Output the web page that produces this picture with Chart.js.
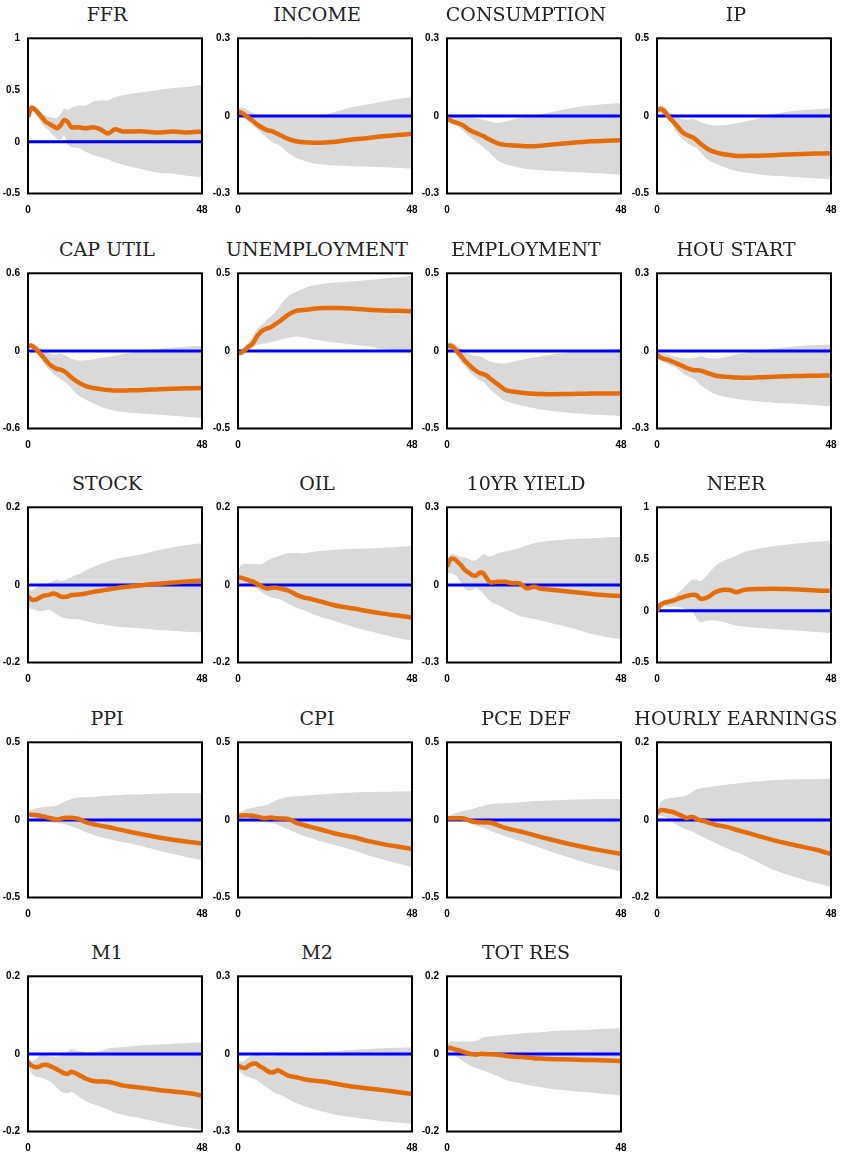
<!DOCTYPE html>
<html>
<head>
<meta charset="utf-8">
<script src="https://cdn.jsdelivr.net/npm/chart.js@4"></script>
<style>
  html, body { margin: 0; padding: 0; background: #fff; overflow: hidden; }
  #grid { position: relative; width: 843px; height: 1156px; }
  #grid canvas { position: absolute; }
  .ttl {
    position: absolute; width: 214px; text-align: center; white-space: nowrap;
    font-family: 'DejaVu Serif', serif; font-size: 19px; line-height: 23px; color: #222;
  }
</style>
</head>
<body>
<div id="grid"></div>
<script>
var horizons = [0,1,2,3,4,5,6,7,8,9,10,11,12,14,16,18,20,22,24,26,28,32,36,40,44,48];
var xTicks = [0, 48];

var titles = ['FFR', 'INCOME', 'CONSUMPTION', 'IP',
              'CAP UTIL', 'UNEMPLOYMENT', 'EMPLOYMENT', 'HOU START',
              'STOCK', 'OIL', '10YR YIELD', 'NEER',
              'PPI', 'CPI', 'PCE DEF', 'HOURLY EARNINGS',
              'M1', 'M2', 'TOT RES'];

var yTicks = [
  [-0.5, 0, 0.5, 1], [-0.3, 0, 0.3], [-0.3, 0, 0.3], [-0.5, 0, 0.5],
  [-0.6, 0, 0.6], [-0.5, 0, 0.5], [-0.5, 0, 0.5], [-0.3, 0, 0.3],
  [-0.2, 0, 0.2], [-0.2, 0, 0.2], [-0.3, 0, 0.3], [-0.5, 0, 0.5, 1],
  [-0.5, 0, 0.5], [-0.5, 0, 0.5], [-0.5, 0, 0.5], [-0.2, 0, 0.2],
  [-0.2, 0, 0.2], [-0.3, 0, 0.3], [-0.2, 0, 0.2]
];

// impulse responses (mid), lower and upper bands
var ffrMid = [0.24,0.33,0.31,0.27,0.23,0.19,0.17,0.15,0.13,0.16,0.21,0.19,0.14,0.14,0.13,0.14,0.12,0.08,0.12,0.10,0.10,0.10,0.09,0.10,0.09,0.10];
var ffrLo  = [0.21,0.30,0.28,0.22,0.17,0.13,0.10,0.06,0.03,0.02,0.06,-0.03,-0.05,-0.06,-0.10,-0.13,-0.15,-0.17,-0.20,-0.22,-0.24,-0.27,-0.30,-0.31,-0.33,-0.34];
var ffrHi  = [0.27,0.34,0.33,0.30,0.27,0.25,0.24,0.23,0.23,0.27,0.32,0.31,0.33,0.35,0.35,0.39,0.40,0.40,0.43,0.45,0.46,0.48,0.50,0.52,0.53,0.55];

var incomeMid = [0.015,0.012,0.003,-0.008,-0.018,-0.03,-0.04,-0.048,-0.055,-0.058,-0.063,-0.07,-0.077,-0.09,-0.098,-0.102,-0.103,-0.104,-0.103,-0.101,-0.098,-0.09,-0.085,-0.079,-0.074,-0.069];
var incomeLo  = [0.0,-0.005,-0.013,-0.023,-0.035,-0.048,-0.061,-0.073,-0.085,-0.097,-0.105,-0.11,-0.12,-0.145,-0.162,-0.172,-0.18,-0.186,-0.189,-0.191,-0.193,-0.195,-0.197,-0.199,-0.201,-0.203];
var incomeHi  = [0.03,0.032,0.028,0.02,0.012,0.005,0.002,0.0,0.0,0.0,0.0,0.0,-0.001,-0.002,-0.002,-0.002,-0.001,0.0,0.005,0.012,0.02,0.035,0.045,0.055,0.065,0.073];

var consMid = [-0.01,-0.018,-0.024,-0.028,-0.033,-0.042,-0.053,-0.06,-0.066,-0.072,-0.078,-0.086,-0.093,-0.106,-0.112,-0.114,-0.115,-0.117,-0.117,-0.115,-0.112,-0.107,-0.102,-0.098,-0.096,-0.094];
var consLo  = [-0.015,-0.022,-0.032,-0.042,-0.053,-0.065,-0.077,-0.088,-0.099,-0.11,-0.121,-0.133,-0.145,-0.172,-0.186,-0.193,-0.2,-0.205,-0.208,-0.21,-0.212,-0.215,-0.218,-0.221,-0.224,-0.228];
var consHi  = [0.0,-0.002,-0.003,-0.004,-0.005,-0.006,-0.007,-0.008,-0.01,-0.012,-0.015,-0.018,-0.022,-0.027,-0.022,-0.015,-0.008,-0.004,0.0,0.006,0.012,0.024,0.034,0.041,0.046,0.05];

var ipMid = [0.035,0.045,0.03,0.0,-0.025,-0.05,-0.078,-0.105,-0.12,-0.13,-0.14,-0.158,-0.18,-0.213,-0.233,-0.245,-0.252,-0.258,-0.258,-0.257,-0.256,-0.253,-0.249,-0.246,-0.243,-0.241];
var ipLo  = [0.02,0.015,0.0,-0.02,-0.05,-0.095,-0.125,-0.148,-0.17,-0.185,-0.198,-0.208,-0.235,-0.282,-0.305,-0.325,-0.342,-0.355,-0.363,-0.37,-0.377,-0.385,-0.39,-0.397,-0.403,-0.408];
var ipHi  = [0.055,0.065,0.06,0.035,0.015,0.0,-0.012,-0.02,-0.024,-0.022,-0.02,-0.028,-0.04,-0.055,-0.062,-0.06,-0.055,-0.048,-0.037,-0.028,-0.015,0.01,0.027,0.036,0.043,0.049];

var capMid = [0.04,0.04,0.02,-0.01,-0.04,-0.075,-0.105,-0.125,-0.14,-0.145,-0.158,-0.18,-0.205,-0.245,-0.272,-0.287,-0.295,-0.303,-0.306,-0.306,-0.305,-0.302,-0.296,-0.292,-0.289,-0.287];
var capLo  = [0.03,0.02,0.0,-0.04,-0.08,-0.12,-0.15,-0.178,-0.2,-0.22,-0.238,-0.26,-0.29,-0.345,-0.378,-0.405,-0.43,-0.45,-0.462,-0.472,-0.478,-0.486,-0.494,-0.502,-0.51,-0.518];
var capHi  = [0.06,0.058,0.048,0.03,0.012,-0.005,-0.022,-0.03,-0.03,-0.024,-0.03,-0.048,-0.06,-0.074,-0.072,-0.065,-0.055,-0.045,-0.035,-0.025,-0.015,0.003,0.015,0.026,0.034,0.04];

var unempMid = [-0.015,-0.01,0.008,0.028,0.045,0.085,0.115,0.135,0.145,0.152,0.168,0.183,0.2,0.235,0.258,0.263,0.268,0.275,0.277,0.277,0.276,0.272,0.265,0.26,0.258,0.256];
var unempLo  = [-0.02,-0.02,-0.012,0.0,0.02,0.038,0.043,0.047,0.05,0.055,0.062,0.067,0.075,0.085,0.093,0.088,0.078,0.07,0.062,0.056,0.051,0.04,0.028,0.012,0.0,-0.01];
var unempHi  = [-0.005,0.005,0.03,0.06,0.09,0.13,0.155,0.178,0.2,0.22,0.245,0.27,0.305,0.355,0.38,0.4,0.418,0.428,0.434,0.439,0.443,0.449,0.457,0.465,0.474,0.483];

var emplMid = [0.03,0.033,0.018,-0.01,-0.035,-0.065,-0.088,-0.11,-0.128,-0.142,-0.15,-0.16,-0.18,-0.215,-0.25,-0.262,-0.268,-0.273,-0.276,-0.278,-0.279,-0.278,-0.276,-0.274,-0.274,-0.275];
var emplLo  = [0.015,0.005,-0.007,-0.04,-0.075,-0.1,-0.13,-0.152,-0.172,-0.19,-0.2,-0.225,-0.25,-0.29,-0.322,-0.337,-0.35,-0.36,-0.369,-0.377,-0.384,-0.395,-0.403,-0.41,-0.415,-0.42];
var emplHi  = [0.05,0.057,0.045,0.03,0.015,-0.005,-0.02,-0.028,-0.032,-0.035,-0.045,-0.058,-0.068,-0.078,-0.081,-0.07,-0.06,-0.05,-0.042,-0.034,-0.027,-0.015,-0.004,0.003,0.008,0.012];

var houMid = [-0.015,-0.026,-0.031,-0.034,-0.04,-0.046,-0.052,-0.058,-0.065,-0.07,-0.074,-0.075,-0.076,-0.086,-0.095,-0.099,-0.101,-0.103,-0.104,-0.104,-0.102,-0.1,-0.098,-0.097,-0.096,-0.095];
var houLo  = [-0.025,-0.034,-0.044,-0.051,-0.058,-0.064,-0.073,-0.085,-0.094,-0.1,-0.107,-0.118,-0.132,-0.152,-0.167,-0.175,-0.181,-0.186,-0.19,-0.193,-0.196,-0.2,-0.203,-0.206,-0.21,-0.214];
var houHi  = [-0.008,-0.008,-0.01,-0.014,-0.019,-0.022,-0.025,-0.028,-0.029,-0.029,-0.028,-0.025,-0.021,-0.028,-0.029,-0.026,-0.02,-0.014,-0.009,-0.004,0.0,0.008,0.015,0.02,0.023,0.025];

var stockMid = [-0.03,-0.038,-0.038,-0.034,-0.029,-0.027,-0.025,-0.022,-0.025,-0.03,-0.031,-0.03,-0.026,-0.025,-0.022,-0.018,-0.015,-0.012,-0.009,-0.006,-0.004,0.0,0.003,0.006,0.009,0.011];
var stockLo  = [-0.058,-0.062,-0.065,-0.068,-0.067,-0.065,-0.064,-0.07,-0.077,-0.082,-0.085,-0.087,-0.088,-0.089,-0.093,-0.098,-0.101,-0.104,-0.107,-0.109,-0.11,-0.113,-0.116,-0.118,-0.121,-0.123];
var stockHi  = [-0.008,-0.013,-0.01,-0.003,0.0,0.003,0.005,0.01,0.013,0.01,0.012,0.016,0.02,0.028,0.038,0.046,0.054,0.06,0.066,0.07,0.073,0.08,0.089,0.097,0.103,0.108];

var oilMid = [0.02,0.018,0.015,0.012,0.009,0.004,-0.001,-0.006,-0.009,-0.008,-0.007,-0.008,-0.01,-0.015,-0.025,-0.032,-0.036,-0.041,-0.046,-0.051,-0.055,-0.061,-0.068,-0.074,-0.079,-0.084];
var oilLo  = [0.006,0.005,0.003,0.0,-0.004,-0.009,-0.016,-0.022,-0.028,-0.032,-0.034,-0.036,-0.039,-0.049,-0.058,-0.065,-0.073,-0.08,-0.086,-0.091,-0.097,-0.109,-0.119,-0.128,-0.137,-0.144];
var oilHi  = [0.04,0.052,0.054,0.054,0.054,0.054,0.053,0.055,0.062,0.067,0.07,0.073,0.077,0.082,0.082,0.081,0.084,0.087,0.088,0.09,0.091,0.093,0.094,0.096,0.098,0.1];

var yieldMid = [0.07,0.1,0.1,0.088,0.074,0.057,0.047,0.038,0.036,0.047,0.045,0.025,0.01,0.012,0.012,0.007,0.006,-0.013,-0.007,-0.015,-0.018,-0.024,-0.029,-0.035,-0.04,-0.043];
var yieldLo  = [0.04,0.045,0.04,0.028,0.006,-0.016,-0.023,-0.02,-0.012,-0.022,-0.033,-0.05,-0.064,-0.078,-0.092,-0.106,-0.12,-0.126,-0.132,-0.138,-0.145,-0.158,-0.173,-0.19,-0.201,-0.21];
var yieldHi  = [0.095,0.118,0.118,0.113,0.108,0.105,0.1,0.093,0.096,0.106,0.118,0.113,0.11,0.122,0.129,0.135,0.143,0.152,0.161,0.166,0.17,0.175,0.178,0.18,0.183,0.186];

var neerMid = [0.0,0.06,0.078,0.085,0.093,0.105,0.12,0.13,0.142,0.15,0.155,0.148,0.115,0.13,0.178,0.2,0.2,0.18,0.202,0.208,0.21,0.213,0.21,0.204,0.197,0.193];
var neerLo  = [-0.005,0.025,0.04,0.042,0.042,0.04,0.035,0.028,0.015,0.0,-0.02,-0.08,-0.11,-0.095,-0.093,-0.106,-0.125,-0.145,-0.152,-0.16,-0.167,-0.176,-0.185,-0.195,-0.205,-0.216];
var neerHi  = [0.02,0.06,0.095,0.115,0.13,0.15,0.18,0.21,0.25,0.28,0.305,0.3,0.285,0.35,0.43,0.475,0.508,0.535,0.567,0.585,0.6,0.623,0.64,0.654,0.666,0.677];

var ppiMid = [0.032,0.033,0.032,0.028,0.023,0.018,0.012,0.007,0.002,0.008,0.013,0.014,0.014,0.006,-0.015,-0.027,-0.037,-0.046,-0.056,-0.066,-0.076,-0.095,-0.113,-0.128,-0.141,-0.152];
var ppiLo  = [0.02,0.015,0.01,0.005,0.0,-0.007,-0.014,-0.019,-0.022,-0.024,-0.026,-0.033,-0.043,-0.06,-0.08,-0.095,-0.11,-0.122,-0.132,-0.142,-0.151,-0.173,-0.197,-0.22,-0.24,-0.258];
var ppiHi  = [0.055,0.065,0.074,0.078,0.081,0.084,0.086,0.088,0.092,0.105,0.118,0.126,0.135,0.145,0.146,0.148,0.153,0.156,0.159,0.161,0.163,0.166,0.169,0.171,0.172,0.172];

var cpiMid = [0.026,0.028,0.03,0.029,0.027,0.023,0.017,0.011,0.012,0.015,0.012,0.01,0.009,0.005,-0.017,-0.032,-0.045,-0.057,-0.07,-0.083,-0.094,-0.112,-0.137,-0.156,-0.172,-0.187];
var cpiLo  = [0.015,0.014,0.013,0.011,0.006,0.0,-0.009,-0.014,-0.017,-0.02,-0.023,-0.032,-0.043,-0.062,-0.083,-0.102,-0.117,-0.132,-0.145,-0.158,-0.17,-0.197,-0.229,-0.255,-0.28,-0.305];
var cpiHi  = [0.04,0.055,0.064,0.072,0.078,0.083,0.088,0.091,0.097,0.108,0.12,0.13,0.138,0.149,0.153,0.156,0.159,0.162,0.165,0.168,0.171,0.176,0.179,0.181,0.183,0.185];

var pceMid = [0.011,0.011,0.011,0.011,0.01,0.006,-0.002,-0.01,-0.013,-0.015,-0.016,-0.016,-0.017,-0.033,-0.052,-0.063,-0.073,-0.085,-0.098,-0.111,-0.123,-0.146,-0.167,-0.186,-0.203,-0.219];
var pceLo  = [0.0,0.0,0.0,0.0,0.0,-0.008,-0.02,-0.03,-0.037,-0.044,-0.051,-0.06,-0.07,-0.088,-0.105,-0.12,-0.135,-0.15,-0.166,-0.182,-0.198,-0.23,-0.26,-0.288,-0.31,-0.333];
var pceHi  = [0.02,0.03,0.04,0.048,0.055,0.06,0.064,0.07,0.077,0.084,0.09,0.097,0.103,0.105,0.107,0.11,0.114,0.117,0.12,0.123,0.125,0.129,0.131,0.133,0.134,0.135];

var earnMid = [0.017,0.025,0.025,0.023,0.021,0.018,0.014,0.01,0.005,0.007,0.007,0.002,-0.001,-0.006,-0.012,-0.016,-0.02,-0.026,-0.031,-0.036,-0.042,-0.052,-0.061,-0.069,-0.077,-0.088];
var earnLo  = [0.01,0.01,0.008,0.003,-0.003,-0.01,-0.016,-0.021,-0.025,-0.028,-0.031,-0.036,-0.041,-0.05,-0.059,-0.068,-0.076,-0.083,-0.091,-0.1,-0.11,-0.128,-0.141,-0.153,-0.163,-0.172];
var earnHi  = [0.025,0.045,0.052,0.055,0.057,0.058,0.059,0.06,0.063,0.068,0.074,0.079,0.081,0.084,0.087,0.089,0.092,0.094,0.096,0.098,0.099,0.102,0.104,0.105,0.105,0.106];

var m1Mid = [-0.022,-0.03,-0.034,-0.033,-0.029,-0.028,-0.031,-0.035,-0.04,-0.045,-0.05,-0.051,-0.046,-0.054,-0.064,-0.07,-0.071,-0.072,-0.076,-0.081,-0.084,-0.088,-0.093,-0.097,-0.101,-0.107];
var m1Lo  = [-0.03,-0.05,-0.058,-0.06,-0.062,-0.066,-0.071,-0.078,-0.087,-0.096,-0.1,-0.101,-0.098,-0.11,-0.122,-0.13,-0.136,-0.143,-0.151,-0.157,-0.161,-0.168,-0.176,-0.183,-0.19,-0.196];
var m1Hi  = [-0.01,-0.018,-0.015,-0.006,0.0,-0.003,-0.006,-0.007,-0.007,-0.005,-0.002,0.005,0.012,0.008,0.004,0.005,0.007,0.014,0.016,0.017,0.019,0.022,0.024,0.026,0.028,0.03];

var m2Mid = [-0.045,-0.052,-0.055,-0.045,-0.038,-0.038,-0.048,-0.055,-0.065,-0.072,-0.07,-0.063,-0.07,-0.085,-0.09,-0.097,-0.102,-0.105,-0.108,-0.113,-0.118,-0.127,-0.134,-0.14,-0.147,-0.155];
var m2Lo  = [-0.06,-0.075,-0.085,-0.09,-0.095,-0.1,-0.11,-0.12,-0.13,-0.14,-0.15,-0.155,-0.16,-0.175,-0.19,-0.2,-0.21,-0.218,-0.225,-0.232,-0.238,-0.246,-0.253,-0.26,-0.265,-0.27];
var m2Hi  = [-0.025,-0.03,-0.025,-0.012,-0.005,-0.003,-0.005,-0.008,-0.01,-0.01,-0.008,-0.005,-0.005,-0.006,-0.004,-0.001,0.002,0.005,0.008,0.01,0.012,0.016,0.019,0.022,0.024,0.026];

var resMid = [0.015,0.015,0.012,0.01,0.007,0.004,0.001,-0.001,-0.002,0.0,0.0,-0.001,-0.001,-0.002,-0.005,-0.007,-0.008,-0.009,-0.011,-0.012,-0.013,-0.014,-0.015,-0.016,-0.017,-0.018];
var resLo  = [0.005,0.0,-0.004,-0.009,-0.016,-0.023,-0.028,-0.033,-0.037,-0.04,-0.043,-0.046,-0.05,-0.057,-0.066,-0.072,-0.075,-0.08,-0.083,-0.086,-0.089,-0.093,-0.097,-0.1,-0.104,-0.107];
var resHi  = [0.025,0.032,0.032,0.032,0.032,0.032,0.032,0.032,0.033,0.038,0.042,0.044,0.045,0.047,0.049,0.05,0.052,0.054,0.055,0.056,0.058,0.06,0.061,0.063,0.065,0.066];

var mids  = [ffrMid, incomeMid, consMid, ipMid, capMid, unempMid, emplMid, houMid, stockMid, oilMid, yieldMid, neerMid, ppiMid, cpiMid, pceMid, earnMid, m1Mid, m2Mid, resMid];
var lows  = [ffrLo, incomeLo, consLo, ipLo, capLo, unempLo, emplLo, houLo, stockLo, oilLo, yieldLo, neerLo, ppiLo, cpiLo, pceLo, earnLo, m1Lo, m2Lo, resLo];
var highs = [ffrHi, incomeHi, consHi, ipHi, capHi, unempHi, emplHi, houHi, stockHi, oilHi, yieldHi, neerHi, ppiHi, cpiHi, pceHi, earnHi, m1Hi, m2Hi, resHi];

var colLeft = [0, 210, 419, 629];
var rowTop = [0, 235, 469, 704, 938];

var tickFont = { family: "'Liberation Sans Narrow', 'Liberation Sans', sans-serif", size: 10, weight: 'bold' };

function pts(arr) {
  return arr.map(function (v, i) { return { x: horizons[i], y: v }; });
}

// black frame round the plot area; narrow tick text where the face exists
var framePlugin = {
  id: 'frame',
  beforeDraw: function (chart) {
    chart.ctx.fontStretch = 'condensed';
  },
  afterDatasetsDraw: function (chart) {
    var a = chart.chartArea;
    var ctx = chart.ctx;
    ctx.save();
    ctx.strokeStyle = '#000';
    ctx.lineWidth = 2;
    ctx.strokeRect(a.left, a.top, a.right - a.left, a.bottom - a.top);
    ctx.restore();
  }
};

function makeChart(i) {
  var grid = document.getElementById('grid');
  var left = colLeft[i % 4];
  var top = rowTop[Math.floor(i / 4)];

  var title = document.createElement('div');
  title.className = 'ttl';
  title.style.left = left + 'px';
  title.style.top = (top + 3) + 'px';
  title.textContent = titles[i];
  grid.appendChild(title);

  var canvas = document.createElement('canvas');
  canvas.width = 210;
  canvas.height = 234;
  canvas.style.left = left + 'px';
  canvas.style.top = top + 'px';
  grid.appendChild(canvas);

  var ticks = yTicks[i];

  new Chart(canvas, {
    type: 'line',
    data: {
      datasets: [
        { data: pts(mids[i]), borderColor: '#E46C0A', borderWidth: 4.5, pointRadius: 0, tension: 0.3, fill: false },
        { data: [{ x: 0, y: 0 }, { x: 48, y: 0 }], borderColor: '#0000FF', borderWidth: 3, pointRadius: 0, fill: false },
        { data: pts(lows[i]), borderWidth: 0, borderColor: 'rgba(0,0,0,0)', pointRadius: 0, tension: 0.3, fill: false },
        { data: pts(highs[i]), borderWidth: 0, borderColor: 'rgba(0,0,0,0)', backgroundColor: '#D9D9D9', pointRadius: 0, tension: 0.3, fill: '-1' }
      ]
    },
    options: {
      responsive: false,
      animation: false,
      devicePixelRatio: 1,
      layout: { padding: { left: 0, right: 8, top: 38.3, bottom: 0 } },
      plugins: {
        legend: { display: false },
        tooltip: { enabled: false },
        title: { display: false }
      },
      scales: {
        x: {
          type: 'linear',
          min: 0,
          max: 48,
          afterBuildTicks: function (s) { s.ticks = xTicks.map(function (v) { return { value: v }; }); },
          afterFit: function (s) { s.height = 40.5; },
          // invisible tick marks push the labels down without widening the side padding
          grid: { display: true, drawOnChartArea: false, drawTicks: true, tickLength: 11, color: 'rgba(0,0,0,0)' },
          border: { display: false },
          ticks: { padding: 0, maxRotation: 0, autoSkip: false, color: '#000', font: tickFont }
        },
        y: {
          min: ticks[0],
          max: ticks[ticks.length - 1],
          afterBuildTicks: function (s) { s.ticks = ticks.map(function (v) { return { value: v }; }); },
          afterFit: function (s) { s.width = 28; },
          grid: { display: false, drawTicks: false },
          border: { display: false },
          ticks: { padding: 8, color: '#000', font: tickFont, callback: function (v) { return String(v); } }
        }
      }
    },
    plugins: [framePlugin]
  });
}

for (var i = 0; i < titles.length; i++) {
  makeChart(i);
}
</script>
</body>
</html>
